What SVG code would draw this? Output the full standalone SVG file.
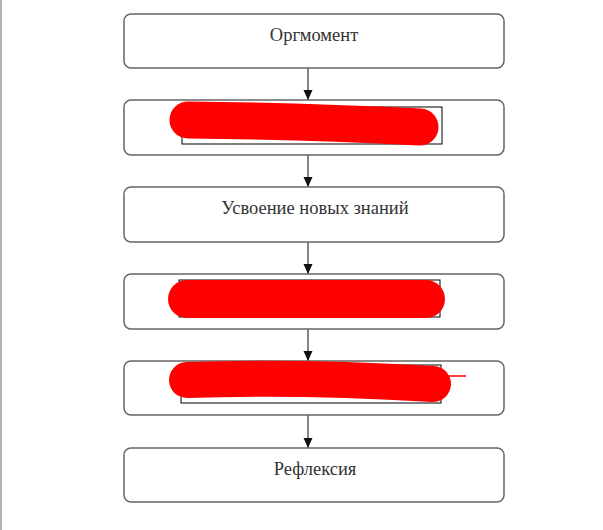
<svg xmlns="http://www.w3.org/2000/svg" width="603" height="530" viewBox="0 0 603 530">
<style>
.box{fill:#fff;stroke:#666;stroke-width:1.5}
.lbl{font-family:"Liberation Serif","Times New Roman",serif;font-size:18.5px;fill:#333;text-anchor:middle}
.tb{fill:#fff;stroke:#000;stroke-width:1}
.red{fill:none;stroke:#ff0000;stroke-linecap:round;stroke-linejoin:round}
.conn{stroke:#444;stroke-width:1.3;fill:none}
</style>
<defs>
<marker id="ah" markerWidth="10" markerHeight="12" refX="10" refY="5" orient="auto" markerUnits="userSpaceOnUse">
<path d="M0,0.5 L10,5 L0,9.5 Z" fill="#111"/>
</marker>
</defs>
<rect x="0" y="0" width="603" height="530" fill="#fff"/>
<line x1="1" y1="0" x2="1" y2="530" stroke="#999" stroke-width="1.5"/>
<g id="connectors">
<line class="conn" x1="308" y1="68" x2="308" y2="100" marker-end="url(#ah)"/>
<line class="conn" x1="308" y1="155" x2="308" y2="187" marker-end="url(#ah)"/>
<line class="conn" x1="308" y1="242" x2="308" y2="274" marker-end="url(#ah)"/>
<line class="conn" x1="308" y1="329" x2="308" y2="361" marker-end="url(#ah)"/>
<line class="conn" x1="308" y1="415" x2="308" y2="448" marker-end="url(#ah)"/>
</g>
<g id="n1">
<rect class="box" x="124" y="14" width="380" height="54" rx="7"/>
<text class="lbl" x="314" y="41">Оргмомент</text>
</g>
<g id="n2">
<rect class="box" x="124" y="100" width="380" height="55" rx="7"/>
<rect class="tb" x="182" y="107" width="260" height="37"/>
<path class="red" stroke-width="37" d="M188,120 Q300,121 420,127"/>
</g>
<g id="n3">
<rect class="box" x="124" y="187" width="380" height="55" rx="7"/>
<text class="lbl" x="315" y="214">Усвоение новых знаний</text>
</g>
<g id="n4">
<rect class="box" x="124" y="274" width="380" height="55" rx="7"/>
<rect class="tb" x="179" y="280" width="261" height="37"/>
<path class="red" stroke-width="38" d="M187,299 L426,299"/>
</g>
<g id="n5">
<rect class="box" x="124" y="361" width="380" height="54" rx="7"/>
<rect class="tb" x="181" y="365" width="260" height="38"/>
<path class="red" stroke-width="36" d="M187,380 Q300,376 433,384"/>
<line x1="446" y1="376" x2="466" y2="376" stroke="#ff0000" stroke-width="1.5"/>
</g>
<g id="n6">
<rect class="box" x="124" y="448" width="380" height="54" rx="7"/>
<text class="lbl" x="315" y="475">Рефлексия</text>
</g>
</svg>
